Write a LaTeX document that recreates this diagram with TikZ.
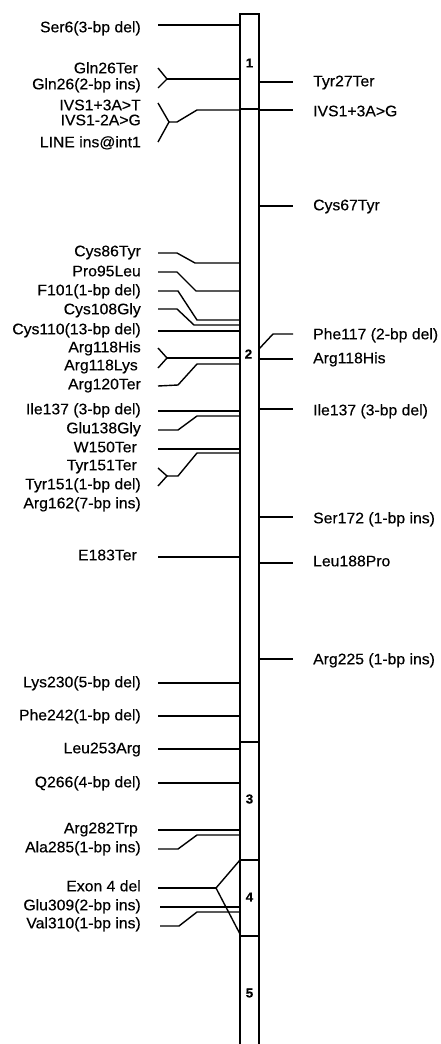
\documentclass[tikz,border=0pt]{standalone}
\usepackage{fontspec}
\setmainfont{Liberation Sans}[FakeStretch=1.03,FakeBold=0.4]
\begin{document}
\begin{tikzpicture}[x=1pt,y=-1pt,
  lab/.style={inner sep=0pt,font=\fontsize{15.3}{17}\selectfont,text height=1.5ex,text depth=.25ex},
  labl/.style={lab,anchor=east},
  labr/.style={lab,anchor=west},
  exlab/.style={inner sep=0pt,font=\fontsize{13}{15}\selectfont\bfseries},
  bar/.style={line width=2.2pt},
  conn/.style={line width=1.4pt,line join=miter}]
\useasboundingbox (0,0) rectangle (441,1044);
% gene bar
\draw[bar] (240,1046) -- (240,14) -- (259,14) -- (259,1046);
\coordinate (b12l) at (240,109); \coordinate (b12r) at (259,109);
\coordinate (b23l) at (240,742); \coordinate (b23r) at (259,742);
\coordinate (b34l) at (240,860); \coordinate (b34r) at (259,860);
\coordinate (b45l) at (240,936); \coordinate (b45r) at (259,936);
\draw[bar] (b12l) -- (b12r);
\draw[bar] (b23l) -- (b23r);
\draw[bar] (b34l) -- (b34r);
\draw[bar] (b45l) -- (b45r);
\node[exlab] (e1) at (249.5,63) {1};
\node[exlab] (e2) at (248.5,354) {2};
\node[exlab] (e3) at (249.5,799) {3};
\node[exlab] (e4) at (249.5,897) {4};
\node[exlab] (e5) at (249.5,993) {5};
% left labels
\node[labl] (l1) at (141,29) {Ser6(3-bp del)};
\node[labl] (l2) at (138,70) {Gln26Ter};
\node[labl] (l3) at (141,86) {Gln26(2-bp ins)};
\node[labl] (l4) at (141,107) {IVS1+3A>T};
\node[labl] (l5) at (141,122) {IVS1-2A>G};
\node[labl] (l6) at (141,144) {LINE ins@int1};
\node[labl] (l7) at (141,253) {Cys86Tyr};
\node[labl] (l8) at (141,273) {Pro95Leu};
\node[labl] (l9) at (141,292) {F101(1-bp del)};
\node[labl] (l10) at (141,311) {Cys108Gly};
\node[labl] (l11) at (141,331) {Cys110(13-bp del)};
\node[labl] (l12) at (141,349) {Arg118His};
\node[labl] (l13) at (138,367) {Arg118Lys};
\node[labl] (l14) at (141,386) {Arg120Ter};
\node[labl] (l15) at (141,411) {Ile137 (3-bp del)};
\node[labl] (l16) at (141,430) {Glu138Gly};
\node[labl] (l17) at (137,449) {W150Ter};
\node[labl] (l18) at (137,467) {Tyr151Ter};
\node[labl] (l19) at (141,486) {Tyr151(1-bp del)};
\node[labl] (l20) at (141,505) {Arg162(7-bp ins)};
\node[labl] (l21) at (137,557) {E183Ter};
\node[labl] (l22) at (141,684) {Lys230(5-bp del)};
\node[labl] (l23) at (141,717) {Phe242(1-bp del)};
\node[labl] (l24) at (141,750) {Leu253Arg};
\node[labl] (l25) at (141,784) {Q266(4-bp del)};
\node[labl] (l26) at (138,830) {Arg282Trp};
\node[labl] (l27) at (141,849) {Ala285(1-bp ins)};
\node[labl] (l28) at (141,888) {Exon 4 del};
\node[labl] (l29) at (141,907) {Glu309(2-bp ins)};
\node[labl] (l30) at (141,925) {Val310(1-bp ins)};
% right labels
\node[labr] (r1) at (313,83) {Tyr27Ter};
\node[labr] (r2) at (313,113) {IVS1+3A>G};
\node[labr] (r3) at (313,207) {Cys67Tyr};
\node[labr] (r4) at (313,336) {Phe117 (2-bp del)};
\node[labr] (r5) at (313,360) {Arg118His};
\node[labr] (r6) at (313,412) {Ile137 (3-bp del)};
\node[labr] (r7) at (313,520) {Ser172 (1-bp ins)};
\node[labr] (r8) at (313,563) {Leu188Pro};
\node[labr] (r9) at (313,661) {Arg225 (1-bp ins)};
% right connectors
\draw[conn] (259,82) -- (293,82);
\draw[conn] (259,110) -- (293,110);
\draw[conn] (259,206) -- (293,206);
\draw[conn] (259,349) -- (273,334) -- (293,334);
\draw[conn] (259,359) -- (293,359);
\draw[conn] (259,409) -- (293,409);
\draw[conn] (259,517) -- (293,517);
\draw[conn] (259,563) -- (293,563);
\draw[conn] (259,659) -- (293,659);
% left connectors
\draw[conn] (158,25) -- (240,25);
\draw[conn] (158,68) -- (167,79) -- (158,88);
\draw[conn] (167,79) -- (240,79);
\draw[conn] (158,103) -- (169,122) -- (158,142);
\draw[conn] (169,122) -- (177,122) -- (197,110) -- (240,110);
\draw[conn] (158,253) -- (177,253) -- (195,263) -- (240,263);
\draw[conn] (158,272) -- (177,272) -- (196,291) -- (240,291);
\draw[conn] (158,291) -- (178,291) -- (197,320) -- (240,320);
\draw[conn] (158,309) -- (177,309) -- (194,325) -- (240,325);
\draw[conn] (158,331) -- (240,331);
\draw[conn] (158,348) -- (167,358) -- (158,368);
\draw[conn] (167,358) -- (240,358);
\draw[conn] (158,386) -- (178,385) -- (197,364) -- (240,364);
\draw[conn] (158,411) -- (240,411);
\draw[conn] (158,430) -- (178,430) -- (197,416) -- (240,416);
\draw[conn] (158,449) -- (240,449);
\draw[conn] (158,468) -- (167,476) -- (158,486);
\draw[conn] (167,476) -- (178,476) -- (197,453) -- (240,453);
\draw[conn] (158,557) -- (240,557);
\draw[conn] (158,683) -- (240,683);
\draw[conn] (158,716) -- (240,716);
\draw[conn] (158,749) -- (240,749);
\draw[conn] (158,783) -- (240,783);
\draw[conn] (158,830) -- (240,830);
\draw[conn] (158,849) -- (178,849) -- (197,835) -- (240,835);
\draw[conn] (158,888) -- (216,888);
\draw[conn] (b34l) -- (216,888) -- (240,934);
\draw[conn] (160,907) -- (240,907);
\draw[conn] (160,926) -- (179,926) -- (197,912) -- (240,912);
\end{tikzpicture}
\end{document}
